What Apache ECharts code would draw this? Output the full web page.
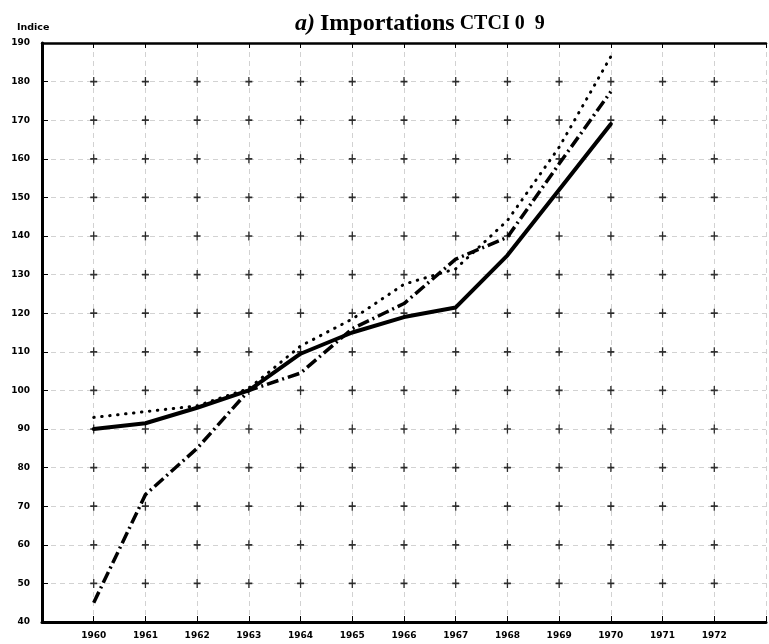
<!DOCTYPE html>
<html>
<head>
<meta charset="utf-8">
<script src="https://cdn.jsdelivr.net/npm/echarts@6/dist/echarts.min.js"></script>
<style>
  html, body { margin: 0; padding: 0; background: #fff; }
  #chart { width: 769px; height: 644px; }
</style>
</head>
<body>
<div id="chart"></div>
<script>
// années et niveaux de la grille
var years = [1960, 1961, 1962, 1963, 1964, 1965, 1966, 1967, 1968, 1969, 1970, 1971, 1972];
var levels = [50, 60, 70, 80, 90, 100, 110, 120, 130, 140, 150, 160, 170, 180];

// séries (1960-1970)
var seriesYears = [1960, 1961, 1962, 1963, 1964, 1965, 1966, 1967, 1968, 1969, 1970];
var solidValues = [90, 91.5, 95.5, 100, 109.5, 115, 119, 121.5, 135, 152, 169];
var dashDotValues = [45, 73, 85, 100, 104.5, 116, 122.5, 134, 139.7, 158.7, 177.4];
var dottedValues = [93, 94.5, 96, 100.5, 111.5, 118.5, 127.5, 131.5, 144, 163, 186.5];

function pairs(xs, ys) {
  var out = [];
  for (var i = 0; i < xs.length; i++) out.push([xs[i], ys[i]]);
  return out;
}

// petites croix à chaque intersection
var crosses = [];
years.forEach(function (y) {
  levels.forEach(function (l) { crosses.push([y, l]); });
});

var chart = echarts.init(document.getElementById('chart'));
var font = 'DejaVu Sans';
var serif = 'Liberation Serif';
var option = {
  animation: false,
  title: [
    {
      text: '{a|a)} {b|Importations} {c|CTCI 0  9}',
      left: 290,
      top: 7,
      textStyle: {
        rich: {
          a: { fontFamily: serif, fontStyle: 'italic', fontWeight: 'bold', fontSize: 24, color: '#000' },
          b: { fontFamily: serif, fontWeight: 'bold', fontSize: 24, color: '#000' },
          c: { fontFamily: serif, fontWeight: 'bold', fontSize: 20, color: '#000' }
        }
      }
    },
    {
      text: 'Indice',
      left: 12,
      top: 18,
      textStyle: { fontFamily: font, fontWeight: 'bold', fontSize: 9.5, color: '#000' }
    }
  ],
  grid: { left: 42, right: 0, top: 43, bottom: 22, containLabel: false },
  xAxis: [
    {
      type: 'value',
      min: 1959,
      max: 1973,
      interval: 1,
      position: 'bottom',
      axisLine: { lineStyle: { color: '#000', width: 3 } },
      axisTick: { inside: true, length: 6, lineStyle: { color: '#000', width: 1 } },
      axisLabel: {
        margin: 9,
        fontFamily: font,
        fontWeight: 'bold',
        fontSize: 9,
        color: '#000',
        formatter: function (v) { return years.indexOf(v) >= 0 ? String(v) : ''; }
      },
      splitLine: { show: true, lineStyle: { color: '#888', width: 0.7, type: [5, 4], opacity: 0.55 } }
    },
    {
      type: 'value',
      min: 1959,
      max: 1973,
      interval: 1,
      position: 'top',
      axisLine: { lineStyle: { color: '#000', width: 2.5 } },
      axisTick: { inside: true, length: 5, lineStyle: { color: '#000', width: 1 } },
      axisLabel: { show: false },
      splitLine: { show: false }
    }
  ],
  yAxis: {
    type: 'value',
    min: 40,
    max: 190,
    interval: 10,
    axisLine: { show: true, lineStyle: { color: '#000', width: 3 } },
    axisTick: { show: true, inside: true, length: 6, lineStyle: { color: '#000', width: 1 } },
    axisLabel: { margin: 12, fontFamily: font, fontWeight: 'bold', fontSize: 9, color: '#000' },
    splitLine: { show: true, lineStyle: { color: '#888', width: 0.7, type: [5, 4], opacity: 0.55 } }
  },
  series: [
    {
      type: 'scatter',
      silent: true,
      data: crosses,
      symbol: 'path://M3.25,0 h1.5 v3.25 h3.25 v1.5 h-3.25 v3.25 h-1.5 v-3.25 h-3.25 v-1.5 h3.25 z',
      symbolSize: [7, 9],
      itemStyle: { color: '#000' },
      z: 1
    },
    {
      type: 'line',
      data: pairs(seriesYears, solidValues),
      showSymbol: false,
      lineStyle: { color: '#000', width: 4, cap: 'round', join: 'round' },
      z: 3
    },
    {
      type: 'line',
      data: pairs(seriesYears, dashDotValues),
      showSymbol: false,
      lineStyle: { color: '#000', width: 3.5, type: [12, 4, 2, 4] },
      z: 3
    },
    {
      type: 'line',
      data: pairs(seriesYears, dottedValues),
      showSymbol: false,
      lineStyle: { color: '#000', width: 3, type: [0.5, 7.5], cap: 'round' },
      z: 3
    }
  ]
};
chart.setOption(option);
</script>
</body>
</html>
